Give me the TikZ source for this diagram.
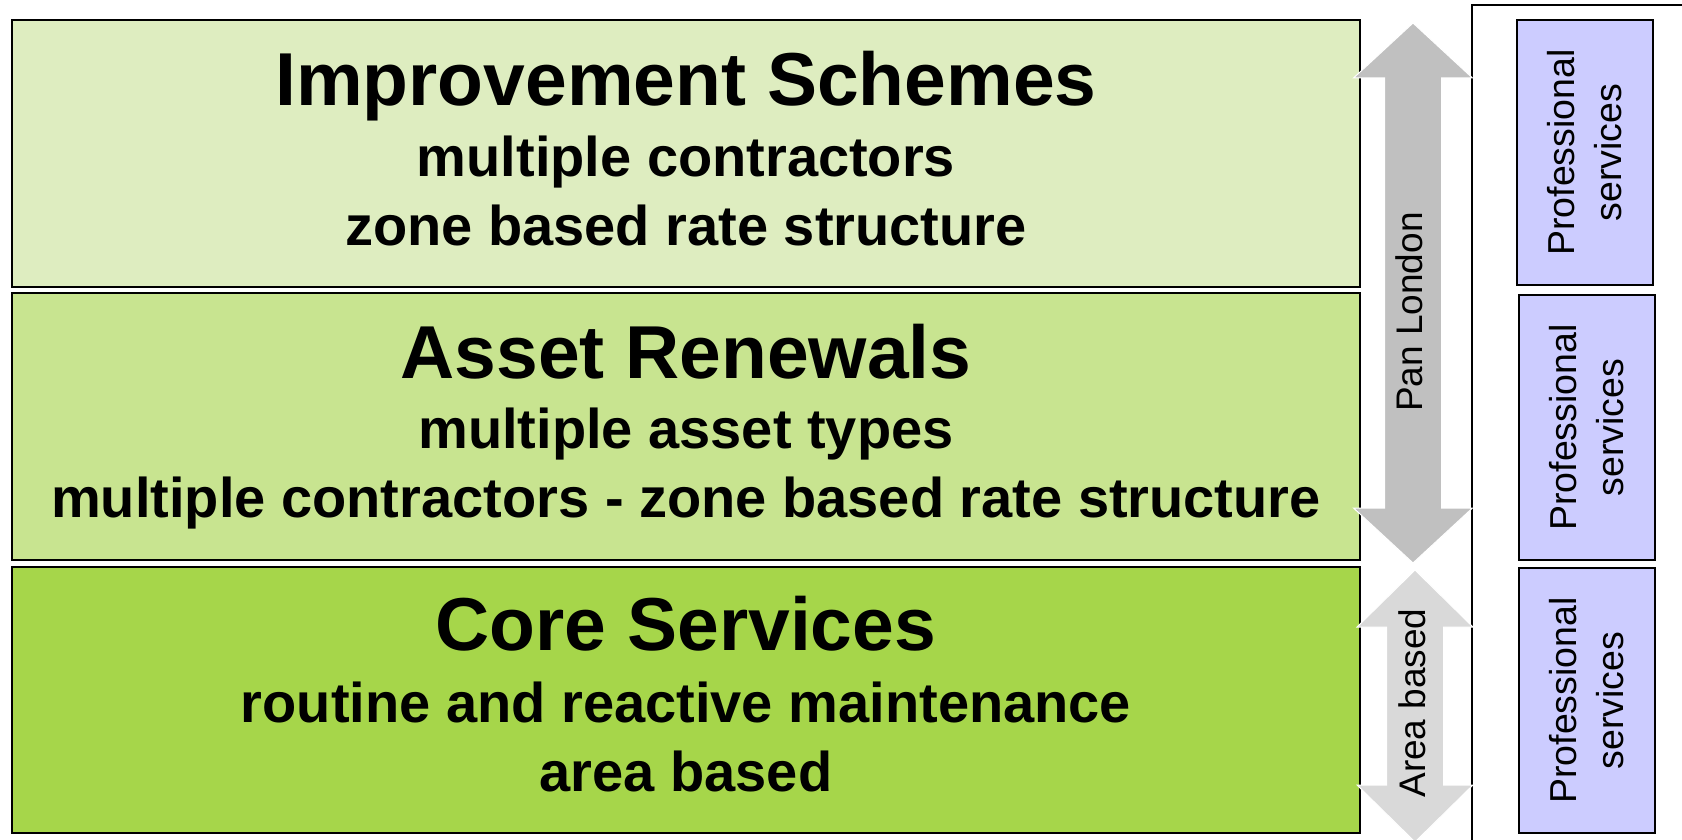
\documentclass[tikz,border=0pt]{standalone}
\usepackage{fontspec}
\setmainfont{Liberation Sans}
\definecolor{gA}{RGB}{222,237,192}
\definecolor{gB}{RGB}{200,228,144}
\definecolor{gC}{RGB}{166,214,74}
\definecolor{lav}{RGB}{204,204,255}
\definecolor{arrA}{RGB}{192,192,192}
\definecolor{arrB}{RGB}{217,217,217}
\tikzset{
  tier/.style={draw=black, line width=2pt, minimum width=1348pt, inner sep=0pt},
  ttl/.style={anchor=base, font=\fontsize{75}{90}\selectfont\bfseries},
  sub/.style={anchor=base, font=\fontsize{56}{66}\selectfont\bfseries},
  psbox/.style={draw=black, line width=2pt, fill=lav, minimum width=136pt, minimum height=265pt, inner sep=0pt},
  pstext/.style={rotate=90, align=center, font=\fontsize{37.5}{47}\selectfont},
  arrlabel/.style={rotate=90, font=\fontsize{37}{44}\selectfont},
  bigarrow/.style={draw=white, line width=1pt}
}
\begin{document}
\begin{tikzpicture}[x=1pt, y=-1pt]
\useasboundingbox (0,0) rectangle (1682,840);
% tiers
\node[tier, fill=gA, minimum height=267pt] (imp) at (686,153.5) {};
\node[tier, fill=gB, minimum height=267pt] (ren) at (686,426.5) {};
\node[tier, fill=gC, minimum height=266pt] (core) at (686,700) {};
% tier texts
\node[ttl] (impT) at (686,106) {Improvement Schemes};
\node[sub] (impS1) at (686,177) {multiple contractors};
\node[sub] (impS2) at (686,245) {zone based rate structure};
\node[ttl] (renT) at (686,378) {Asset Renewals};
\node[sub] (renS1) at (686,448) {multiple asset types};
\node[sub] (renS2) at (686,517) {multiple contractors - zone based rate structure};
\node[ttl] (coreT) at (686,650) {Core Services};
\node[sub] (coreS1) at (686,722) {routine and reactive maintenance};
\node[sub] (coreS2) at (686,791) {area based};
% bracket line
\draw[line width=2pt] (1472,842) -- (1472,5) -- (1684,5);
% arrows
\filldraw[arrA, bigarrow] (1413,23) -- (1472.5,78) -- (1441.5,78) -- (1441.5,508) -- (1472.5,508)
  -- (1413,563) -- (1353.5,508) -- (1384.5,508) -- (1384.5,78) -- (1353.5,78) -- cycle;
\filldraw[arrB, bigarrow] (1415,570) -- (1473,627) -- (1443.5,627) -- (1443.5,785) -- (1473,785)
  -- (1415,842) -- (1357,785) -- (1386.5,785) -- (1386.5,627) -- (1357,627) -- cycle;
\node[arrlabel] (pan) at (1409.5,312) {Pan London};
\node[arrlabel] (area) at (1412,703) {Area based};
% professional services
\node[psbox] (ps1) at (1585,152.5) {};
\node[psbox] (ps2) at (1586.5,427.5) {};
\node[psbox] (ps3) at (1586.5,700.5) {};
\node[pstext] (ps1t) at (ps1) {Professional\\services};
\node[pstext] (ps2t) at (ps2) {Professional\\services};
\node[pstext] (ps3t) at (ps3) {Professional\\services};
\end{tikzpicture}
\end{document}
